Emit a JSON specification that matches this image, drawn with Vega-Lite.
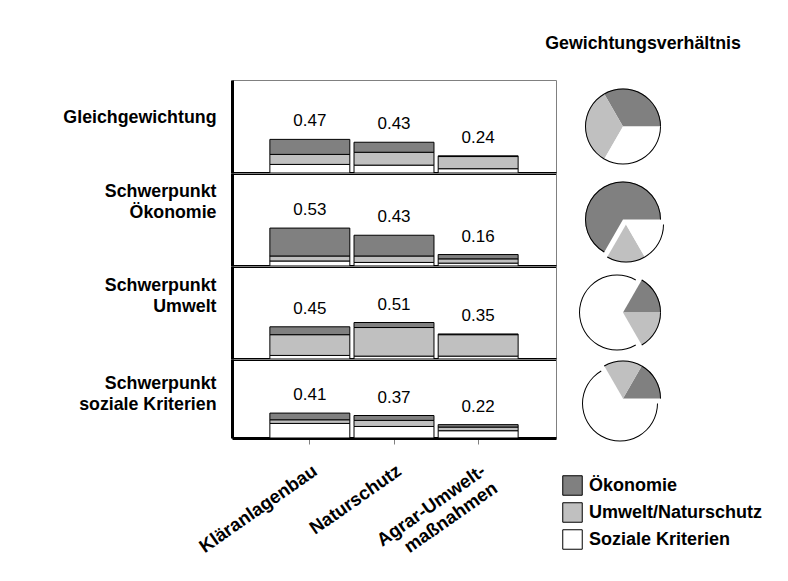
{
  "$schema": "https://vega.github.io/schema/vega-lite/v6.json",
  "background": "white",
  "padding": {"left": 62, "top": 35, "right": 5, "bottom": 5},
  "config": {
    "font": "Liberation Sans",
    "view": {"stroke": null},
    "legend": {"symbolType": "square", "symbolStrokeColor": "black", "symbolStrokeWidth": 1, "symbolSize": 380, "labelFontSize": 18, "labelFontWeight": "bold", "labelColor": "black", "labelFont": "Liberation Sans", "rowPadding": 2, "labelOffset": 6, "symbolOpacity": 1, "labelLimit": 0}
  },
  "datasets": {
    "bars": [
      {"scenario": "Gleichgewichtung", "category": "Kläranlagenbau", "component": "Soziale Kriterien", "value": 0.12},
      {"scenario": "Gleichgewichtung", "category": "Kläranlagenbau", "component": "Umwelt/Naturschutz", "value": 0.14},
      {"scenario": "Gleichgewichtung", "category": "Kläranlagenbau", "component": "Ökonomie", "value": 0.21},
      {"scenario": "Gleichgewichtung", "category": "Naturschutz", "component": "Soziale Kriterien", "value": 0.11},
      {"scenario": "Gleichgewichtung", "category": "Naturschutz", "component": "Umwelt/Naturschutz", "value": 0.18},
      {"scenario": "Gleichgewichtung", "category": "Naturschutz", "component": "Ökonomie", "value": 0.14},
      {"scenario": "Gleichgewichtung", "category": "Agrar-Umwelt-maßnahmen", "component": "Soziale Kriterien", "value": 0.06},
      {"scenario": "Gleichgewichtung", "category": "Agrar-Umwelt-maßnahmen", "component": "Umwelt/Naturschutz", "value": 0.17},
      {"scenario": "Gleichgewichtung", "category": "Agrar-Umwelt-maßnahmen", "component": "Ökonomie", "value": 0.01},
      {"scenario": "Ökonomie", "category": "Kläranlagenbau", "component": "Soziale Kriterien", "value": 0.07},
      {"scenario": "Ökonomie", "category": "Kläranlagenbau", "component": "Umwelt/Naturschutz", "value": 0.07},
      {"scenario": "Ökonomie", "category": "Kläranlagenbau", "component": "Ökonomie", "value": 0.39},
      {"scenario": "Ökonomie", "category": "Naturschutz", "component": "Soziale Kriterien", "value": 0.05},
      {"scenario": "Ökonomie", "category": "Naturschutz", "component": "Umwelt/Naturschutz", "value": 0.09},
      {"scenario": "Ökonomie", "category": "Naturschutz", "component": "Ökonomie", "value": 0.29},
      {"scenario": "Ökonomie", "category": "Agrar-Umwelt-maßnahmen", "component": "Soziale Kriterien", "value": 0.04},
      {"scenario": "Ökonomie", "category": "Agrar-Umwelt-maßnahmen", "component": "Umwelt/Naturschutz", "value": 0.06},
      {"scenario": "Ökonomie", "category": "Agrar-Umwelt-maßnahmen", "component": "Ökonomie", "value": 0.06},
      {"scenario": "Umwelt", "category": "Kläranlagenbau", "component": "Soziale Kriterien", "value": 0.05},
      {"scenario": "Umwelt", "category": "Kläranlagenbau", "component": "Umwelt/Naturschutz", "value": 0.29},
      {"scenario": "Umwelt", "category": "Kläranlagenbau", "component": "Ökonomie", "value": 0.11},
      {"scenario": "Umwelt", "category": "Naturschutz", "component": "Soziale Kriterien", "value": 0.04},
      {"scenario": "Umwelt", "category": "Naturschutz", "component": "Umwelt/Naturschutz", "value": 0.40},
      {"scenario": "Umwelt", "category": "Naturschutz", "component": "Ökonomie", "value": 0.07},
      {"scenario": "Umwelt", "category": "Agrar-Umwelt-maßnahmen", "component": "Soziale Kriterien", "value": 0.04},
      {"scenario": "Umwelt", "category": "Agrar-Umwelt-maßnahmen", "component": "Umwelt/Naturschutz", "value": 0.30},
      {"scenario": "Umwelt", "category": "Agrar-Umwelt-maßnahmen", "component": "Ökonomie", "value": 0.01},
      {"scenario": "Soziales", "category": "Kläranlagenbau", "component": "Soziale Kriterien", "value": 0.24},
      {"scenario": "Soziales", "category": "Kläranlagenbau", "component": "Umwelt/Naturschutz", "value": 0.06},
      {"scenario": "Soziales", "category": "Kläranlagenbau", "component": "Ökonomie", "value": 0.11},
      {"scenario": "Soziales", "category": "Naturschutz", "component": "Soziale Kriterien", "value": 0.19},
      {"scenario": "Soziales", "category": "Naturschutz", "component": "Umwelt/Naturschutz", "value": 0.10},
      {"scenario": "Soziales", "category": "Naturschutz", "component": "Ökonomie", "value": 0.08},
      {"scenario": "Soziales", "category": "Agrar-Umwelt-maßnahmen", "component": "Soziale Kriterien", "value": 0.12},
      {"scenario": "Soziales", "category": "Agrar-Umwelt-maßnahmen", "component": "Umwelt/Naturschutz", "value": 0.06},
      {"scenario": "Soziales", "category": "Agrar-Umwelt-maßnahmen", "component": "Ökonomie", "value": 0.04}
    ],
    "pies": [
      {"scenario": "Gleichgewichtung", "component": "Ökonomie", "weight": 33.33},
      {"scenario": "Gleichgewichtung", "component": "Umwelt/Naturschutz", "weight": 33.33},
      {"scenario": "Gleichgewichtung", "component": "Soziale Kriterien", "weight": 33.34},
      {"scenario": "Ökonomie", "component": "Ökonomie", "weight": 66.67},
      {"scenario": "Ökonomie", "component": "Umwelt/Naturschutz", "weight": 16.67},
      {"scenario": "Ökonomie", "component": "Soziale Kriterien", "weight": 16.66},
      {"scenario": "Umwelt", "component": "Ökonomie", "weight": 16.67},
      {"scenario": "Umwelt", "component": "Umwelt/Naturschutz", "weight": 16.67},
      {"scenario": "Umwelt", "component": "Soziale Kriterien", "weight": 66.66},
      {"scenario": "Soziales", "component": "Ökonomie", "weight": 16.67},
      {"scenario": "Soziales", "component": "Umwelt/Naturschutz", "weight": 16.67},
      {"scenario": "Soziales", "component": "Soziale Kriterien", "weight": 66.66}
    ]
  },
  "bounds": "flush",
  "align": "each",
  "columns": 2,
  "spacing": {"row": 0, "column": 17},
  "resolve": {"scale": {"x": "independent", "y": "independent", "theta": "independent", "color": "shared"}},
  "concat": [
    {
      "width": 324, "height": 93,
      "view": {"stroke": "#808080", "strokeWidth": 1},
      "data": {"name": "bars"},
      "transform": [{"filter": "datum.scenario === 'Gleichgewichtung'"}],
      "encoding": {
        "x": {"field": "category", "type": "nominal", "sort": ["Kläranlagenbau", "Naturschutz", "Agrar-Umwelt-maßnahmen"], "scale": {"paddingInner": 0.05, "paddingOuter": 0.45},
              "axis": {"domain": true, "domainColor": "black", "domainWidth": 3, "labels": false, "ticks": false, "title": null, "grid": false}}
      },
      "layer": [
        {"mark": {"type": "bar", "stroke": "black", "strokeWidth": 1},
         "encoding": {
           "y": {"field": "value", "type": "quantitative", "stack": "zero", "scale": {"domain": [0, 1.3]},
                 "axis": {"domain": true, "domainColor": "black", "domainWidth": 3, "labels": false, "ticks": false, "grid": false, "title": "Gleichgewichtung", "titleAngle": 0, "titleAlign": "right", "titleBaseline": "middle", "titleX": -16, "titleY": 37, "titleFontSize": 17.8, "titleFontWeight": "bold", "titleColor": "black", "titleLineHeight": 21}},
           "color": {"field": "component", "type": "nominal", "scale": {"domain": ["Ökonomie", "Umwelt/Naturschutz", "Soziale Kriterien"], "range": ["#808080", "#c0c0c0", "#ffffff"]},
                     "legend": {"orient": "none", "legendX": 330, "legendY": 395, "title": null}},
           "order": {"field": "component", "sort": "ascending"}
         }},
        {"mark": {"type": "text", "baseline": "alphabetic", "dy": -13, "fontSize": 17, "color": "black"},
         "encoding": {
           "y": {"aggregate": "sum", "field": "value", "type": "quantitative",
                 "axis": {"domain": true, "domainColor": "black", "domainWidth": 3, "labels": false, "ticks": false, "grid": false, "title": "Gleichgewichtung", "titleAngle": 0, "titleAlign": "right", "titleBaseline": "middle", "titleX": -16, "titleY": 37, "titleFontSize": 17.8, "titleFontWeight": "bold", "titleColor": "black", "titleLineHeight": 21}},
           "text": {"aggregate": "sum", "field": "value", "type": "quantitative", "format": ".2f"}
         }}
      ]
    },
    {
      "width": 100, "height": 93,
      "title": {"text": "Gewichtungsverhältnis", "fontSize": 17.8, "fontWeight": "bold", "color": "black", "anchor": "middle", "dx": 20, "offset": 27},
      "data": {"name": "pies"},
      "transform": [
        {"filter": "datum.scenario === 'Gleichgewichtung'"},
        {"stack": "weight", "groupby": [], "sort": [{"field": "component", "order": "ascending"}], "as": ["t0", "t1"]}
      ],
      "encoding": {
        "theta": {"field": "t0", "type": "quantitative", "scale": {"domain": [0, 100], "range": [1.5708, 7.8540]}},
        "theta2": {"field": "t1"},
        "color": {"field": "component", "type": "nominal"}
      },
      "layer": [
        {"mark": {"type": "arc", "outerRadius": 38}},
        {"mark": {"type": "arc", "outerRadius": 38, "innerRadius": 37}, "encoding": {"color": {"value": "black"}}}
      ]
    },
    {
      "width": 324, "height": 93,
      "view": {"stroke": "#808080", "strokeWidth": 1},
      "data": {"name": "bars"},
      "transform": [{"filter": "datum.scenario === 'Ökonomie'"}],
      "encoding": {
        "x": {"field": "category", "type": "nominal", "sort": ["Kläranlagenbau", "Naturschutz", "Agrar-Umwelt-maßnahmen"], "scale": {"paddingInner": 0.05, "paddingOuter": 0.45},
              "axis": {"domain": true, "domainColor": "black", "domainWidth": 3, "labels": false, "ticks": false, "title": null, "grid": false}}
      },
      "layer": [
        {"mark": {"type": "bar", "stroke": "black", "strokeWidth": 1},
         "encoding": {
           "y": {"field": "value", "type": "quantitative", "stack": "zero", "scale": {"domain": [0, 1.3]},
                 "axis": {"domain": true, "domainColor": "black", "domainWidth": 3, "labels": false, "ticks": false, "grid": false, "title": ["Schwerpunkt", "Ökonomie"], "titleAngle": 0, "titleAlign": "right", "titleBaseline": "middle", "titleX": -16, "titleY": 18, "titleFontSize": 17.8, "titleFontWeight": "bold", "titleColor": "black", "titleLineHeight": 21}},
           "color": {"field": "component", "type": "nominal"},
           "order": {"field": "component", "sort": "ascending"}
         }},
        {"mark": {"type": "text", "baseline": "alphabetic", "dy": -13, "fontSize": 17, "color": "black"},
         "encoding": {
           "y": {"aggregate": "sum", "field": "value", "type": "quantitative",
                 "axis": {"domain": true, "domainColor": "black", "domainWidth": 3, "labels": false, "ticks": false, "grid": false, "title": ["Schwerpunkt", "Ökonomie"], "titleAngle": 0, "titleAlign": "right", "titleBaseline": "middle", "titleX": -16, "titleY": 18, "titleFontSize": 17.8, "titleFontWeight": "bold", "titleColor": "black", "titleLineHeight": 21}},
           "text": {"aggregate": "sum", "field": "value", "type": "quantitative", "format": ".2f"}
         }}
      ]
    },
    {
      "width": 100, "height": 93,
      "data": {"name": "pies"},
      "transform": [
        {"filter": "datum.scenario === 'Ökonomie'"},
        {"stack": "weight", "groupby": [], "sort": [{"field": "component", "order": "ascending"}], "as": ["t0", "t1"]}
      ],
      "encoding": {
        "theta": {"field": "t0", "type": "quantitative", "scale": {"domain": [0, 100], "range": [1.5708, 7.8540]}},
        "theta2": {"field": "t1"},
        "color": {"field": "component", "type": "nominal"}
      },
      "layer": [
        {"transform": [{"filter": "datum.component === 'Ökonomie'"}], "mark": {"type": "arc", "outerRadius": 38}},
        {"transform": [{"filter": "datum.component === 'Ökonomie'"}], "mark": {"type": "arc", "outerRadius": 38, "innerRadius": 37}, "encoding": {"color": {"value": "black"}}},
        {"transform": [{"filter": "datum.component !== 'Ökonomie'"}], "mark": {"type": "arc", "outerRadius": 38, "xOffset": 3, "yOffset": 5}},
        {"transform": [{"filter": "datum.component !== 'Ökonomie'"}], "mark": {"type": "arc", "outerRadius": 38, "innerRadius": 37, "xOffset": 3, "yOffset": 5}, "encoding": {"color": {"value": "black"}}}
      ]
    },
    {
      "width": 324, "height": 93,
      "view": {"stroke": "#808080", "strokeWidth": 1},
      "data": {"name": "bars"},
      "transform": [{"filter": "datum.scenario === 'Umwelt'"}],
      "encoding": {
        "x": {"field": "category", "type": "nominal", "sort": ["Kläranlagenbau", "Naturschutz", "Agrar-Umwelt-maßnahmen"], "scale": {"paddingInner": 0.05, "paddingOuter": 0.45},
              "axis": {"domain": true, "domainColor": "black", "domainWidth": 3, "labels": false, "ticks": false, "title": null, "grid": false}}
      },
      "layer": [
        {"mark": {"type": "bar", "stroke": "black", "strokeWidth": 1},
         "encoding": {
           "y": {"field": "value", "type": "quantitative", "stack": "zero", "scale": {"domain": [0, 1.3]},
                 "axis": {"domain": true, "domainColor": "black", "domainWidth": 3, "labels": false, "ticks": false, "grid": false, "title": ["Schwerpunkt", "Umwelt"], "titleAngle": 0, "titleAlign": "right", "titleBaseline": "middle", "titleX": -16, "titleY": 19, "titleFontSize": 17.8, "titleFontWeight": "bold", "titleColor": "black", "titleLineHeight": 21}},
           "color": {"field": "component", "type": "nominal"},
           "order": {"field": "component", "sort": "ascending"}
         }},
        {"mark": {"type": "text", "baseline": "alphabetic", "dy": -13, "fontSize": 17, "color": "black"},
         "encoding": {
           "y": {"aggregate": "sum", "field": "value", "type": "quantitative",
                 "axis": {"domain": true, "domainColor": "black", "domainWidth": 3, "labels": false, "ticks": false, "grid": false, "title": ["Schwerpunkt", "Umwelt"], "titleAngle": 0, "titleAlign": "right", "titleBaseline": "middle", "titleX": -16, "titleY": 19, "titleFontSize": 17.8, "titleFontWeight": "bold", "titleColor": "black", "titleLineHeight": 21}},
           "text": {"aggregate": "sum", "field": "value", "type": "quantitative", "format": ".2f"}
         }}
      ]
    },
    {
      "width": 100, "height": 93,
      "data": {"name": "pies"},
      "transform": [
        {"filter": "datum.scenario === 'Umwelt'"},
        {"stack": "weight", "groupby": [], "sort": [{"field": "component", "order": "descending"}], "as": ["t0", "t1"]}
      ],
      "encoding": {
        "theta": {"field": "t0", "type": "quantitative", "scale": {"domain": [0, 100], "range": [0.5236, 6.8068]}},
        "theta2": {"field": "t1"},
        "color": {"field": "component", "type": "nominal"}
      },
      "layer": [
        {"transform": [{"filter": "datum.component !== 'Soziale Kriterien'"}], "mark": {"type": "arc", "outerRadius": 38}},
        {"transform": [{"filter": "datum.component !== 'Soziale Kriterien'"}], "mark": {"type": "arc", "outerRadius": 38, "innerRadius": 37}, "encoding": {"color": {"value": "black"}}},
        {"transform": [{"filter": "datum.component === 'Soziale Kriterien'"}], "mark": {"type": "arc", "outerRadius": 38, "xOffset": -6, "yOffset": 0}},
        {"transform": [{"filter": "datum.component === 'Soziale Kriterien'"}], "mark": {"type": "arc", "outerRadius": 38, "innerRadius": 37, "xOffset": -6, "yOffset": 0}, "encoding": {"color": {"value": "black"}}}
      ]
    },
    {
      "width": 324, "height": 79,
      "view": {"stroke": "#808080", "strokeWidth": 1},
      "data": {"name": "bars"},
      "transform": [{"filter": "datum.scenario === 'Soziales'"}],
      "encoding": {
        "x": {"field": "category", "type": "nominal", "sort": ["Kläranlagenbau", "Naturschutz", "Agrar-Umwelt-maßnahmen"], "scale": {"paddingInner": 0.05, "paddingOuter": 0.45},
              "axis": {"domain": true, "domainColor": "black", "domainWidth": 3, "labels": true, "ticks": true, "tickColor": "#808080", "tickSize": 6, "tickWidth": 1, "title": null, "grid": false,
                       "labelAngle": -35, "labelFontSize": 18.5, "labelFontWeight": "bold", "labelColor": "black", "labelPadding": 17, "labelLineHeight": 21,
                       "labelExpr": "datum.value === 'Agrar-Umwelt-maßnahmen' ? ['Agrar-Umwelt-', 'maßnahmen'] : datum.label"}}
      },
      "layer": [
        {"mark": {"type": "bar", "stroke": "black", "strokeWidth": 1},
         "encoding": {
           "y": {"field": "value", "type": "quantitative", "stack": "zero", "scale": {"domain": [0, 1.3]},
                 "axis": {"domain": true, "domainColor": "black", "domainWidth": 3, "labels": false, "ticks": false, "grid": false, "title": ["Schwerpunkt", "soziale Kriterien"], "titleAngle": 0, "titleAlign": "right", "titleBaseline": "middle", "titleX": -16, "titleY": 24, "titleFontSize": 17.8, "titleFontWeight": "bold", "titleColor": "black", "titleLineHeight": 21}},
           "color": {"field": "component", "type": "nominal"},
           "order": {"field": "component", "sort": "ascending"}
         }},
        {"mark": {"type": "text", "baseline": "alphabetic", "dy": -13, "fontSize": 17, "color": "black"},
         "encoding": {
           "y": {"aggregate": "sum", "field": "value", "type": "quantitative",
                 "axis": {"domain": true, "domainColor": "black", "domainWidth": 3, "labels": false, "ticks": false, "grid": false, "title": ["Schwerpunkt", "soziale Kriterien"], "titleAngle": 0, "titleAlign": "right", "titleBaseline": "middle", "titleX": -16, "titleY": 24, "titleFontSize": 17.8, "titleFontWeight": "bold", "titleColor": "black", "titleLineHeight": 21}},
           "text": {"aggregate": "sum", "field": "value", "type": "quantitative", "format": ".2f"}
         }}
      ]
    },
    {
      "width": 100, "height": 79,
      "data": {"name": "pies"},
      "transform": [
        {"filter": "datum.scenario === 'Soziales'"},
        {"stack": "weight", "groupby": [], "sort": [{"field": "component", "order": "ascending"}], "as": ["t0", "t1"]}
      ],
      "encoding": {
        "theta": {"field": "t0", "type": "quantitative", "scale": {"domain": [0, 100], "range": [1.5708, 7.8540]}},
        "theta2": {"field": "t1"},
        "color": {"field": "component", "type": "nominal"}
      },
      "layer": [
        {"transform": [{"filter": "datum.component !== 'Soziale Kriterien'"}], "mark": {"type": "arc", "outerRadius": 38}},
        {"transform": [{"filter": "datum.component !== 'Soziale Kriterien'"}], "mark": {"type": "arc", "outerRadius": 38, "innerRadius": 37}, "encoding": {"color": {"value": "black"}}},
        {"transform": [{"filter": "datum.component === 'Soziale Kriterien'"}], "mark": {"type": "arc", "outerRadius": 38, "xOffset": -3, "yOffset": 5}},
        {"transform": [{"filter": "datum.component === 'Soziale Kriterien'"}], "mark": {"type": "arc", "outerRadius": 38, "innerRadius": 37, "xOffset": -3, "yOffset": 5}, "encoding": {"color": {"value": "black"}}}
      ]
    }
  ]
}
